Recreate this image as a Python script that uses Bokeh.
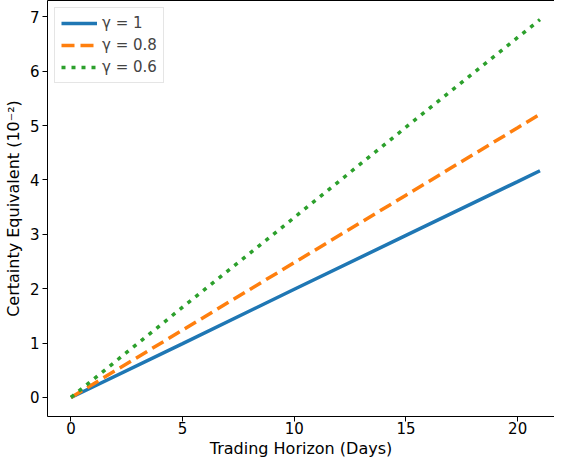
from bokeh.plotting import figure
from bokeh.models import Range1d, FixedTicker, LinearAxis, Legend, LegendItem, Title
from bokeh.embed import file_html
from bokeh.resources import INLINE

days = [0, 5, 10, 15, 20, 21]
ce_g1 = [0.0, 0.99, 1.99, 2.98, 3.97, 4.17]
ce_g08 = [0.0, 1.24, 2.48, 3.72, 4.96, 5.21]
ce_g06 = [0.0, 1.66, 3.31, 4.97, 6.62, 6.95]
labels = ["γ = 1", "γ = 0.8", "γ = 0.6"]
colors = ["#1f77b4", "#ff7f0e", "#2ca02c"]
x_ticks = [0, 5, 10, 15, 20]
y_ticks = [0, 1, 2, 3, 4, 5, 6, 7]
x_label = "Trading Horizon (Days)"
y_label = "Certainty Equivalent (10⁻²)"

FONT = "DejaVu Sans"

p = figure(width=554, height=457, output_backend="svg", toolbar_location=None,
           x_range=Range1d(-1.05, 21.65), y_range=Range1d(-0.35, 7.3),
           min_border_left=41, min_border_right=0, min_border_top=0, min_border_bottom=0)
p.grid.visible = False
p.outline_line_color = None
p.background_fill_color = "white"
p.border_fill_color = "white"

r1 = p.line(days, ce_g1, line_color=colors[0], line_width=3.5)
r2 = p.line(days, ce_g08, line_color=colors[1], line_width=3.5, line_dash="13 6")
r3 = p.line(days, ce_g06, line_color=colors[2], line_width=3.5, line_dash="4 6")

for ax in (p.xaxis[0], p.yaxis[0]):
    ax.major_label_text_font = FONT
    ax.major_label_text_font_size = "15px"
    ax.major_label_text_color = "black"
    ax.axis_label_text_font = FONT
    ax.axis_label_text_font_size = "16px"
    ax.axis_label_text_font_style = "normal"
    ax.axis_label_text_color = "black"
    ax.minor_tick_line_color = None
    ax.major_tick_in = 0
    ax.major_tick_out = 5
    ax.axis_line_color = "black"
    ax.major_tick_line_color = "black"

p.xaxis.ticker = FixedTicker(ticks=x_ticks)
p.yaxis.ticker = FixedTicker(ticks=y_ticks)
p.yaxis.axis_label = y_label
p.yaxis.axis_label_standoff = 4
p.xaxis.major_label_standoff = 0
p.yaxis.major_label_standoff = 3

xt = Title(text=x_label, align="center", text_font=FONT, text_font_size="16px",
           text_font_style="normal", text_color="black", standoff=0, offset=0,
           text_line_height=1.0)
p.add_layout(xt, "below")

top = LinearAxis(ticker=FixedTicker(ticks=[]), major_label_text_font_size="0px",
                 axis_line_color="black", major_tick_line_color=None,
                 minor_tick_line_color=None, major_label_standoff=0)
p.add_layout(top, "above")

legend = Legend(items=[LegendItem(label=labels[0], renderers=[r1]),
                       LegendItem(label=labels[1], renderers=[r2]),
                       LegendItem(label=labels[2], renderers=[r3])],
                location="top_left")
legend.label_text_font = FONT
legend.label_text_font_size = "15px"
legend.glyph_width = 36
legend.glyph_height = 18
legend.label_height = 18
legend.spacing = 4
legend.padding = 6
legend.margin = 7
legend.border_line_color = "#cccccc"
legend.background_fill_alpha = 0.8
p.add_layout(legend)

open("out.html", "w").write(file_html(p, INLINE))
